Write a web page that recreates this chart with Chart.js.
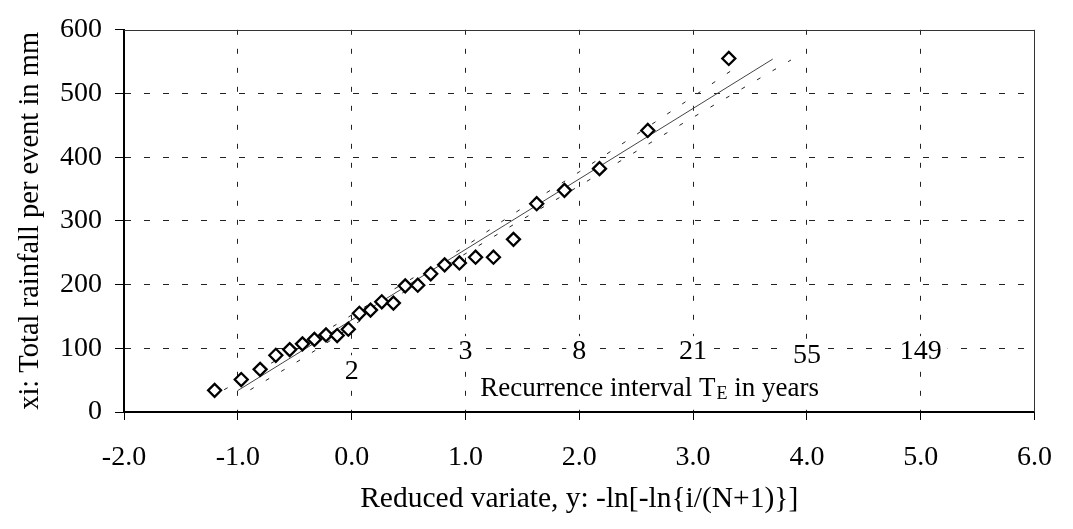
<!DOCTYPE html>
<html><head><meta charset="utf-8">
<script src="https://cdn.jsdelivr.net/npm/chart.js@4/dist/chart.umd.min.js"></script>
<style>html,body{margin:0;padding:0;background:#fff;}#wrap{width:1073px;height:529px;}</style>
</head><body><div id="wrap"><canvas id="c" width="1073" height="529"></canvas></div>
<script>
// ---- data ----
const reducedVariate = [-1.204,-0.970,-0.804,-0.666,-0.544,-0.432,-0.327,-0.225,-0.127,-0.029,0.068,0.166,0.265,0.367,0.471,0.581,0.695,0.817,0.947,1.089,1.246,1.422,1.626,1.870,2.178,2.602,3.314];
const rainfall = [34,51,67,89,98,107,114,121,120,130,155,160,173,171,198,199,217,231,234,243,243,271,327,348,382,442,555];
const fitX = [-1.0, 3.70];
const fitY = [33.7, 554];
const upperX = [-1.12, -0.5, 0.3, 0.98, 1.37, 2.0, 2.85, 3.41];
const upperY = [35, 98, 185, 258, 305, 377, 477, 545];
const lowerX = [-0.89, -0.41, 0.5, 1.37, 2.0, 2.83, 3.42, 3.86];
const lowerY = [35, 86.5, 193, 288.5, 355, 444.6, 506.5, 552.6];
const returnPeriodLabels = ['2','3','8','21','55','149'];
const returnPeriodX = [0, 1, 2, 3, 4, 5];
const returnPeriodY = [64, 94, 94, 94, 88, 94];
const recurrenceText = ['Recurrence interval T', 'E', ' in years'];
const recurrenceTextX = 1.13;
const recurrenceTextY = 37;
const xTitle = 'Reduced variate, y: -ln[-ln{i/(N+1)}]';
const yTitle = 'xi: Total rainfall per event in mm';

const FONT = "'Liberation Serif', 'Times New Roman', serif";
const pts = (xs, ys) => xs.map((x, i) => ({x, y: ys[i]}));

function recurrenceLayout(chart) {
  const {ctx} = chart;
  const xs = chart.scales.x, ys = chart.scales.y;
  ctx.save();
  ctx.font = `27px ${FONT}`;
  const w0 = ctx.measureText(recurrenceText[0]).width + 1;
  const w2 = ctx.measureText(recurrenceText[2]).width;
  ctx.font = `18px ${FONT}`;
  const w1 = ctx.measureText(recurrenceText[1]).width;
  ctx.restore();
  const x0 = xs.getPixelForValue(recurrenceTextX);
  const y0 = ys.getPixelForValue(recurrenceTextY);
  return {x0, y0, w0, w1, w2, total: w0 + w1 + w2};
}

const decor = {
  id: 'decor',
  beforeDatasetsDraw(chart) {
    const {ctx, chartArea: a} = chart;
    const xs = chart.scales.x, ys = chart.scales.y;
    ctx.save();
    // white boxes behind the annotation texts (they hide the grid)
    ctx.fillStyle = '#fff';
    ctx.font = `28px ${FONT}`;
    returnPeriodLabels.forEach((t, i) => {
      const w = ctx.measureText(t).width + 12;
      const cx = xs.getPixelForValue(returnPeriodX[i]);
      const cy = ys.getPixelForValue(returnPeriodY[i]);
      ctx.fillRect(cx - w / 2, cy - 16, w, 32);
    });
    const L = recurrenceLayout(chart);
    ctx.fillRect(L.x0 - 6, L.y0 - 18, L.total + 12, Math.min(38, a.bottom - (L.y0 - 18) - 1));
    // top and right frame
    ctx.strokeStyle = '#333';
    ctx.lineWidth = 1;
    ctx.beginPath();
    ctx.moveTo(a.left, Math.round(a.top) + 0.5);
    ctx.lineTo(a.right, Math.round(a.top) + 0.5);
    ctx.moveTo(Math.round(a.right) - 0.5, a.top);
    ctx.lineTo(Math.round(a.right) - 0.5, a.bottom);
    ctx.stroke();
    ctx.restore();
  },
  afterDatasetsDraw(chart) {
    const {ctx} = chart;
    const xs = chart.scales.x, ys = chart.scales.y;
    ctx.save();
    ctx.fillStyle = '#000';
    ctx.textBaseline = 'middle';
    ctx.textAlign = 'center';
    ctx.font = `28px ${FONT}`;
    returnPeriodLabels.forEach((t, i) => {
      ctx.fillText(t, xs.getPixelForValue(returnPeriodX[i]), ys.getPixelForValue(returnPeriodY[i]));
    });
    ctx.textAlign = 'left';
    const L = recurrenceLayout(chart);
    let px = L.x0;
    ctx.font = `27px ${FONT}`;
    ctx.fillText(recurrenceText[0], px, L.y0);
    px += L.w0;
    ctx.font = `18px ${FONT}`;
    ctx.fillText(recurrenceText[1], px, L.y0 + 6);
    px += L.w1;
    ctx.font = `27px ${FONT}`;
    ctx.fillText(recurrenceText[2], px, L.y0);
    ctx.restore();
  }
};

new Chart(document.getElementById('c'), {
  type: 'scatter',
  data: {
    datasets: [
      {
        data: pts(reducedVariate, rainfall),
        pointStyle: 'rectRot', pointRadius: 6.5, pointBorderWidth: 2.3,
        pointBorderColor: '#000', pointBackgroundColor: '#fff', showLine: false
      },
      {
        data: pts(fitX, fitY), showLine: true, pointRadius: 0,
        borderColor: '#444', borderWidth: 1
      },
      {
        data: pts(upperX, upperY), showLine: true, pointRadius: 0,
        borderColor: '#222', borderWidth: 1, borderDash: [4, 14], cubicInterpolationMode: 'monotone'
      },
      {
        data: pts(lowerX, lowerY), showLine: true, pointRadius: 0,
        borderColor: '#222', borderWidth: 1, borderDash: [4, 14], cubicInterpolationMode: 'monotone'
      }
    ]
  },
  options: {
    responsive: false, animation: false, devicePixelRatio: 1,
    layout: {padding: {left: 0, top: 17, right: 24, bottom: 0}},
    plugins: {legend: {display: false}, tooltip: {enabled: false}},
    scales: {
      x: {
        type: 'linear', min: -2, max: 6,
        afterFit(s) { s.height = 117; },
        ticks: {stepSize: 1, color: '#000', padding: 21, font: {family: FONT, size: 28},
          callback: v => Number(v).toFixed(1)},
        grid: {
          color: c => (c.tick && (c.tick.value === -2 || c.tick.value === 6)) ? 'rgba(0,0,0,0)' : '#222',
          lineWidth: 1, tickLength: 8, tickColor: '#000', tickWidth: 1
        },
        border: {display: true, color: '#000', width: 2, dash: [5, 14]},
        title: {display: true, text: xTitle, color: '#000', font: {family: FONT, size: 29.5},
          padding: {top: 0, bottom: 12}}
      },
      y: {
        type: 'linear', min: 0, max: 600,
        afterFit(s) { s.width = 124; },
        ticks: {stepSize: 100, color: '#000', padding: 13, font: {family: FONT, size: 28}},
        grid: {
          color: c => (c.tick && (c.tick.value === 0 || c.tick.value === 600)) ? 'rgba(0,0,0,0)' : '#222',
          lineWidth: 1, tickLength: 9, tickColor: '#000', tickWidth: 1
        },
        border: {display: true, color: '#000', width: 2, dash: [6, 13]},
        title: {display: true, text: yTitle, color: '#000', font: {family: FONT, size: 28.5},
          padding: {top: 13, bottom: 0}}
      }
    }
  },
  plugins: [decor]
});
</script>
</body></html>
